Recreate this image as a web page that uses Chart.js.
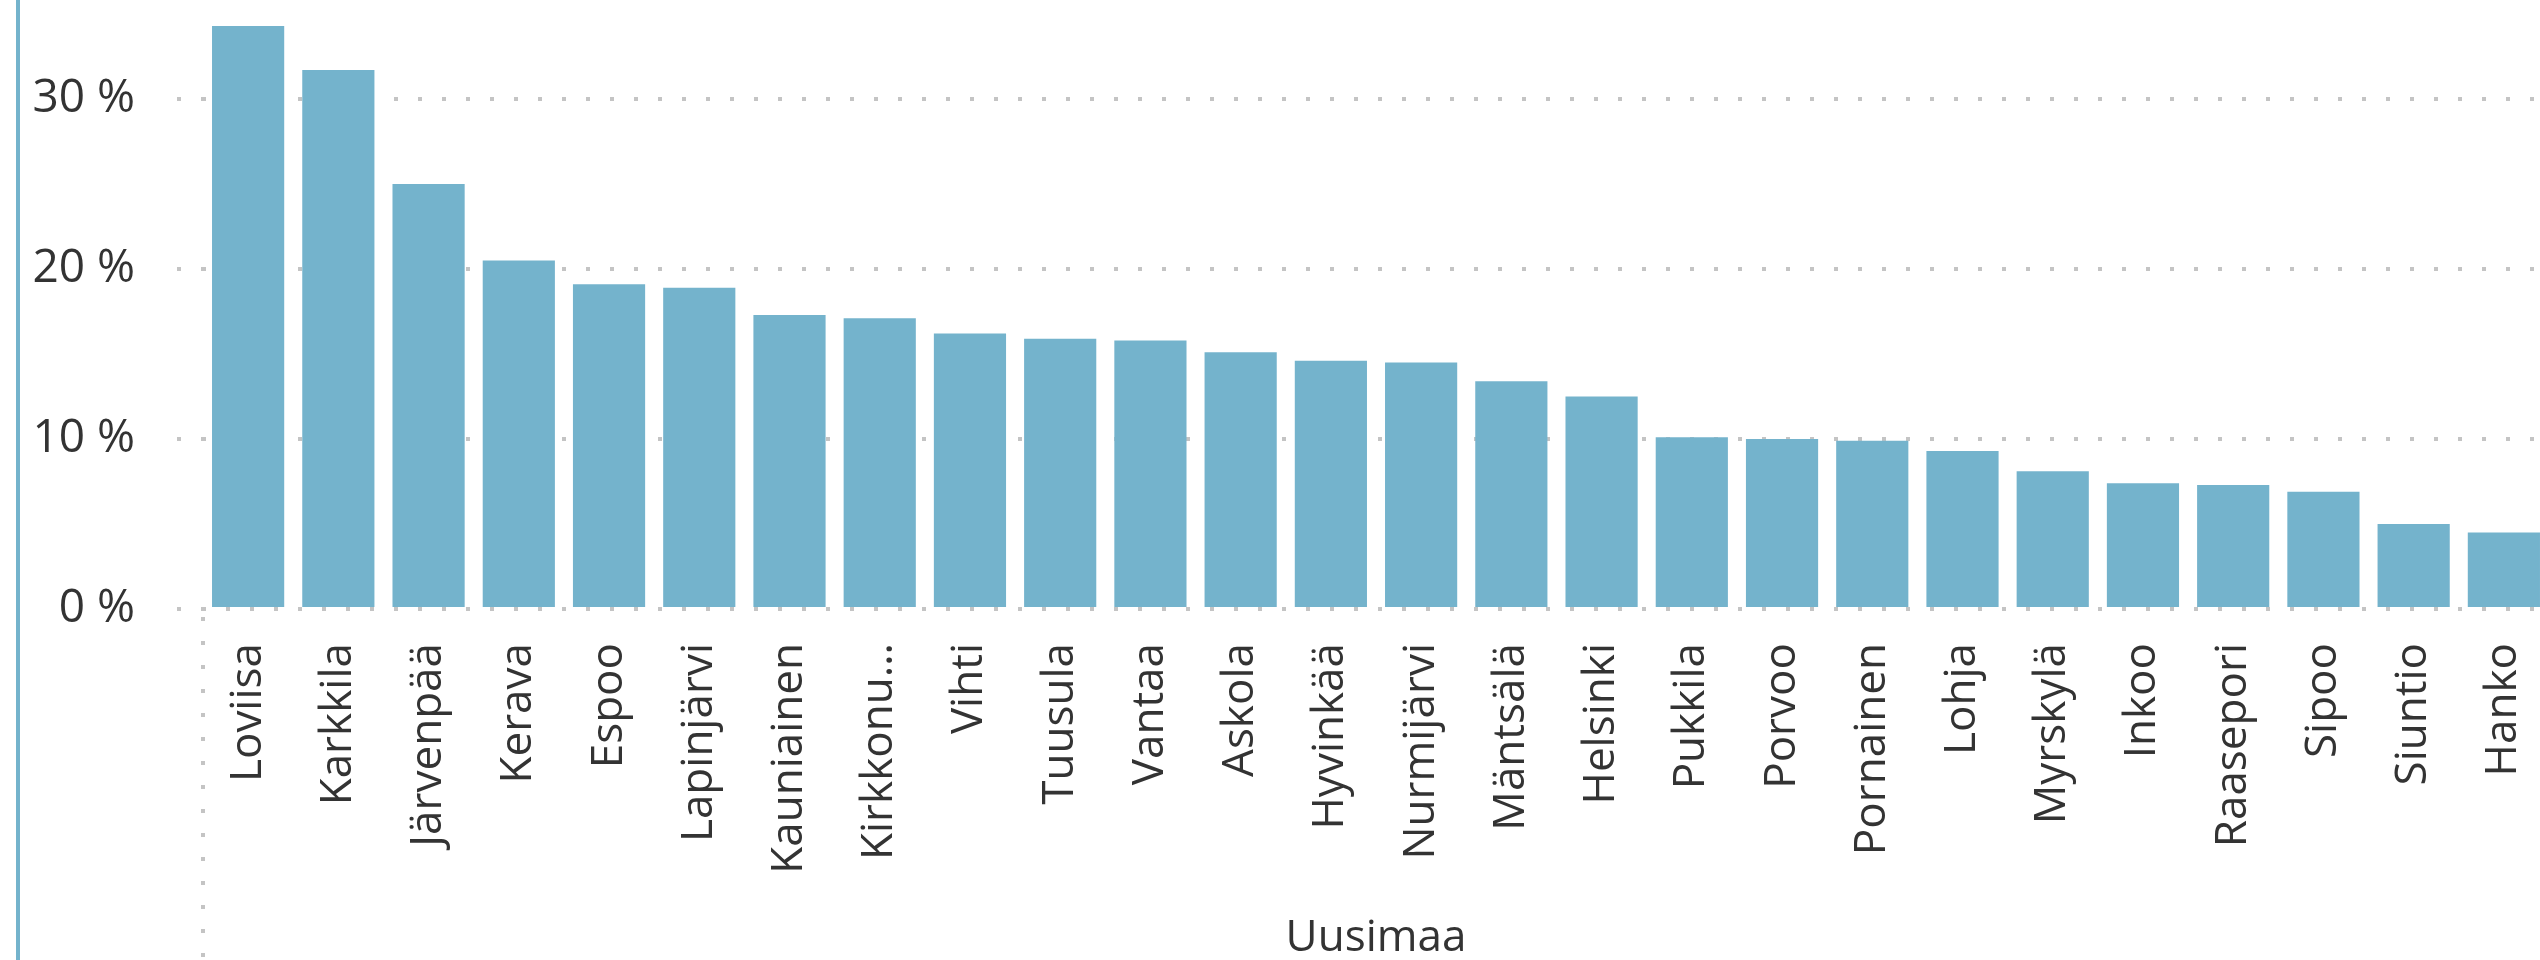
<!DOCTYPE html>
<html>
<head>
<meta charset="utf-8">
<script src="https://cdn.jsdelivr.net/npm/chart.js@4/dist/chart.umd.min.js"></script>
<style>
  html, body { margin: 0; padding: 0; background: #fff; overflow: hidden; }
  #wrap { position: relative; width: 2540px; height: 960px; overflow: hidden; }
  #edge { position: absolute; left: 16px; top: 0; width: 4px; height: 960px; background: #74b3cc; }
  #chart { position: absolute; left: 0; top: 0; }
</style>
</head>
<body>
<div id="wrap">
  <canvas id="chart" width="2560" height="960"></canvas>
  <div id="edge"></div>
</div>
<script>
// municipalities of Uusimaa, sorted by share
const kunnat = [
  'Loviisa', 'Karkkila', 'Järvenpää', 'Kerava', 'Espoo', 'Lapinjärvi',
  'Kauniainen', 'Kirkkonummi', 'Vihti', 'Tuusula', 'Vantaa', 'Askola',
  'Hyvinkää', 'Nurmijärvi', 'Mäntsälä', 'Helsinki', 'Pukkila', 'Porvoo',
  'Pornainen', 'Lohja', 'Myrskylä', 'Inkoo', 'Raasepori', 'Sipoo',
  'Siuntio', 'Hanko'
];
const osuus = [
  34.3, 31.7, 25.0, 20.5, 19.1, 18.9,
  17.3, 17.1, 16.2, 15.9, 15.8, 15.1,
  14.6, 14.5, 13.4, 12.5, 10.1, 10.0,
  9.9, 9.3, 8.1, 7.4, 7.3, 6.9,
  5.0, 4.5
];
const yTicks = [0, 10, 20, 30];
const axisTitle = 'Uusimaa';

const barColor = '#74b3cc';
const dotColor = '#c4c4c4';
const textColor = '#333333';
const fontFamily = "'Open Sans', 'Noto Sans', sans-serif";
const dots = [4, 20];

// dotted line running down from the axis corner through the label area
const cornerLine = {
  id: 'cornerLine',
  afterDraw(chart) {
    const { ctx, chartArea } = chart;
    ctx.save();
    ctx.strokeStyle = dotColor;
    ctx.lineWidth = 4;
    ctx.setLineDash(dots);
    ctx.beginPath();
    ctx.moveTo(chartArea.left, chartArea.bottom + 8);
    ctx.lineTo(chartArea.left, chart.height);
    ctx.stroke();
    ctx.restore();
  }
};

// keep the plot area where the layout padding puts it
const noEdgePadding = (scale) => {
  scale.paddingTop = 0;
  scale.paddingBottom = 0;
  scale.paddingLeft = 0;
  scale.paddingRight = 0;
};

new Chart(document.getElementById('chart').getContext('2d'), {
  type: 'bar',
  data: {
    labels: kunnat,
    datasets: [{
      data: osuus,
      backgroundColor: barColor,
      borderWidth: 0,
      barPercentage: 0.8,
      categoryPercentage: 1.0
    }]
  },
  options: {
    responsive: false,
    devicePixelRatio: 1,
    animation: false,
    layout: { autoPadding: false, padding: { top: 14, right: 11, left: 0, bottom: 0 } },
    plugins: {
      legend: { display: false },
      tooltip: { enabled: false }
    },
    scales: {
      x: {
        grid: { display: false },
        border: { display: false },
        ticks: {
          autoSkip: false,
          minRotation: 90,
          maxRotation: 90,
          padding: 26,
          color: textColor,
          font: { family: fontFamily, size: 44 },
          callback: function (value) {
            const name = this.getLabelForValue(value);
            return name.length > 10 ? name.slice(0, 8) + '…' : name;
          }
        },
        title: {
          display: true,
          text: axisTitle,
          color: textColor,
          font: { family: fontFamily, size: 44, lineHeight: 1 },
          padding: { top: 0, bottom: 0 }
        },
        afterFit: (scale) => {
          scale.height = 351;
          noEdgePadding(scale);
        }
      },
      y: {
        min: 0,
        max: 35,
        border: { display: false, dash: dots, dashOffset: 1 },
        grid: {
          color: dotColor,
          lineWidth: 4,
          drawTicks: true,
          tickLength: 26,
          tickBorderDash: dots,
          tickColor: dotColor,
          tickWidth: 4
        },
        afterBuildTicks: (scale) => {
          scale.ticks = yTicks.map(v => ({ value: v }));
        },
        ticks: {
          padding: 42,
          color: textColor,
          font: { family: fontFamily, size: 46 },
          callback: (v) => v + ' %'
        },
        afterFit: (scale) => {
          scale.width = 203;
          noEdgePadding(scale);
        }
      }
    }
  },
  plugins: [cornerLine]
});
</script>
</body>
</html>
